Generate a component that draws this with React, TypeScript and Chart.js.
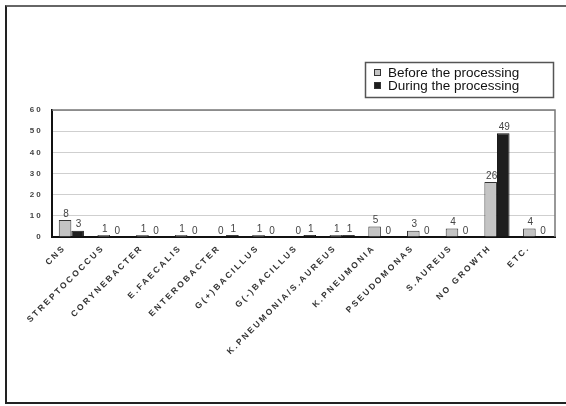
import React, { useEffect, useRef } from "react";
import { Chart, registerables } from "chart.js";

Chart.register(...registerables);

const categories = [
  "CNS",
  "STREPTOCOCCUS",
  "CORYNEBACTER",
  "E.FAECALIS",
  "ENTEROBACTER",
  "G(+)BACILLUS",
  "G(-)BACILLUS",
  "K.PNEUMONIA/S.AUREUS",
  "K.PNEUMONIA",
  "PSEUDOMONAS",
  "S.AUREUS",
  "NO GROWTH",
  "ETC.",
];
const beforeValues = [8, 1, 1, 1, 0, 1, 0, 1, 5, 3, 4, 26, 4];
const duringValues = [3, 0, 0, 0, 1, 0, 1, 1, 0, 0, 0, 49, 0];
const seriesNames = ["Before the processing", "During the processing"];
const yTicks = [0, 10, 20, 30, 40, 50, 60];

const BEFORE_FILL = "#c4c4c4";
const BEFORE_BORDER = "#333333";
const DURING_FILL = "#1e1e1e";

const spacingPlugin = {
  id: "spacing",
  beforeDraw(chart: any) {
    (chart.ctx as any).letterSpacing = "2.2px";
  },
  afterDraw(chart: any) {
    (chart.ctx as any).letterSpacing = "0px";
  },
};

const valueLabels = {
  id: "valueLabels",
  afterDatasetsDraw(chart: any) {
    const ctx = chart.ctx;
    ctx.save();
    (ctx as any).letterSpacing = "0px";
    ctx.font = "10px 'Liberation Sans', Arial, sans-serif";
    ctx.fillStyle = "#444";
    ctx.textAlign = "center";
    ctx.textBaseline = "bottom";
    chart.data.datasets.forEach((ds: any, di: number) => {
      const meta = chart.getDatasetMeta(di);
      meta.data.forEach((el: any, i: number) => {
        ctx.fillText(String(ds.data[i]), el.x + 1, el.y - 1);
      });
    });
    ctx.restore();
  },
};

const boxLegend = {
  id: "boxLegend",
  afterDraw(chart: any) {
    const ctx = chart.ctx;
    const right = chart.chartArea.right - 2;
    const left = right - 188;
    const top = 62;
    const h = 35;
    ctx.save();
    (ctx as any).letterSpacing = "0px";
    ctx.strokeStyle = "#555";
    ctx.lineWidth = 1.5;
    ctx.strokeRect(left + 0.5, top + 0.5, right - left, h);
    ctx.font = "13.5px 'Liberation Sans', Arial, sans-serif";
    ctx.textBaseline = "alphabetic";
    ctx.textAlign = "left";
    const fills = [BEFORE_FILL, DURING_FILL];
    seriesNames.forEach((name, i) => {
      const y = top + 15 + i * 13;
      ctx.fillStyle = fills[i];
      ctx.fillRect(left + 9, y - 8, 7, 7);
      ctx.strokeStyle = "#333";
      ctx.lineWidth = 1;
      ctx.strokeRect(left + 9.5, y - 7.5, 6, 6);
      ctx.fillStyle = "#111";
      ctx.fillText(name, left + 23, y);
    });
    ctx.restore();
  },
};

export default function App() {
  const ref = useRef<HTMLCanvasElement | null>(null);
  useEffect(() => {
    document.body.style.margin = "0";
    const chart = new Chart(ref.current as HTMLCanvasElement, {
      type: "bar",
      data: {
        labels: categories,
        datasets: [
          {
            label: seriesNames[0],
            data: beforeValues,
            backgroundColor: BEFORE_FILL,
            borderColor: BEFORE_BORDER,
            borderWidth: 1,
            categoryPercentage: 0.65,
            barPercentage: 1,
          },
          {
            label: seriesNames[1],
            data: duringValues,
            backgroundColor: DURING_FILL,
            borderColor: "#111",
            borderWidth: 1,
            categoryPercentage: 0.65,
            barPercentage: 1,
          },
        ],
      },
      options: {
        animation: false,
        responsive: false,
        layout: { padding: { top: 110, right: 11, left: 0, bottom: 0 } },
        plugins: { legend: { display: false }, tooltip: { enabled: false } },
        scales: {
          x: {
            grid: { display: false, drawTicks: false },
            border: { color: "#111", width: 2 },
            ticks: {
              autoSkip: false,
              maxRotation: 45,
              minRotation: 45,
              padding: 6,
              labelOffset: -7,
              color: "#333",
              font: { family: "'Liberation Sans', Arial, sans-serif", size: 8.5, weight: "bold" },
            },
            afterFit(scale: any) {
              scale.height = 169;
            },
          },
          y: {
            min: 0,
            max: 60,
            afterBuildTicks(scale: any) {
              scale.ticks = yTicks.map((v) => ({ value: v }));
            },
            grid: { color: "#cfcfcf", lineWidth: 1, drawTicks: false },
            border: { color: "#111", width: 2 },
            ticks: {
              padding: 9,
              color: "#444",
              font: { family: "'Liberation Sans', Arial, sans-serif", size: 8, weight: "bold" },
            },
            afterFit(scale: any) {
              scale.width = 52;
            },
          },
        },
      },
      plugins: [
        spacingPlugin,
        valueLabels,
        boxLegend,
        {
          id: "frameBorder",
          afterDraw(chart: any) {
            const { ctx, chartArea } = chart;
            ctx.save();
            ctx.strokeStyle = "#777";
            ctx.lineWidth = 1.5;
            ctx.beginPath();
            ctx.moveTo(chartArea.left, chartArea.top);
            ctx.lineTo(chartArea.right, chartArea.top);
            ctx.lineTo(chartArea.right, chartArea.bottom);
            ctx.stroke();
            ctx.restore();
          },
        },
      ],
    } as any);
    return () => chart.destroy();
  }, []);
  return (
    <div style={{ position: "absolute", left: 0, top: 0, width: 566, height: 406, background: "#fff" }}>
      <div
        style={{
          position: "absolute",
          left: 5,
          top: 5,
          width: 570,
          height: 399,
          borderLeft: "2px solid #222",
          borderTop: "2px solid #666",
          borderBottom: "2px solid #222",
          boxSizing: "border-box",
        }}
      />
      <canvas ref={ref} width={566} height={406} style={{ position: "absolute", left: 0, top: 0 }} />
    </div>
  );
}
